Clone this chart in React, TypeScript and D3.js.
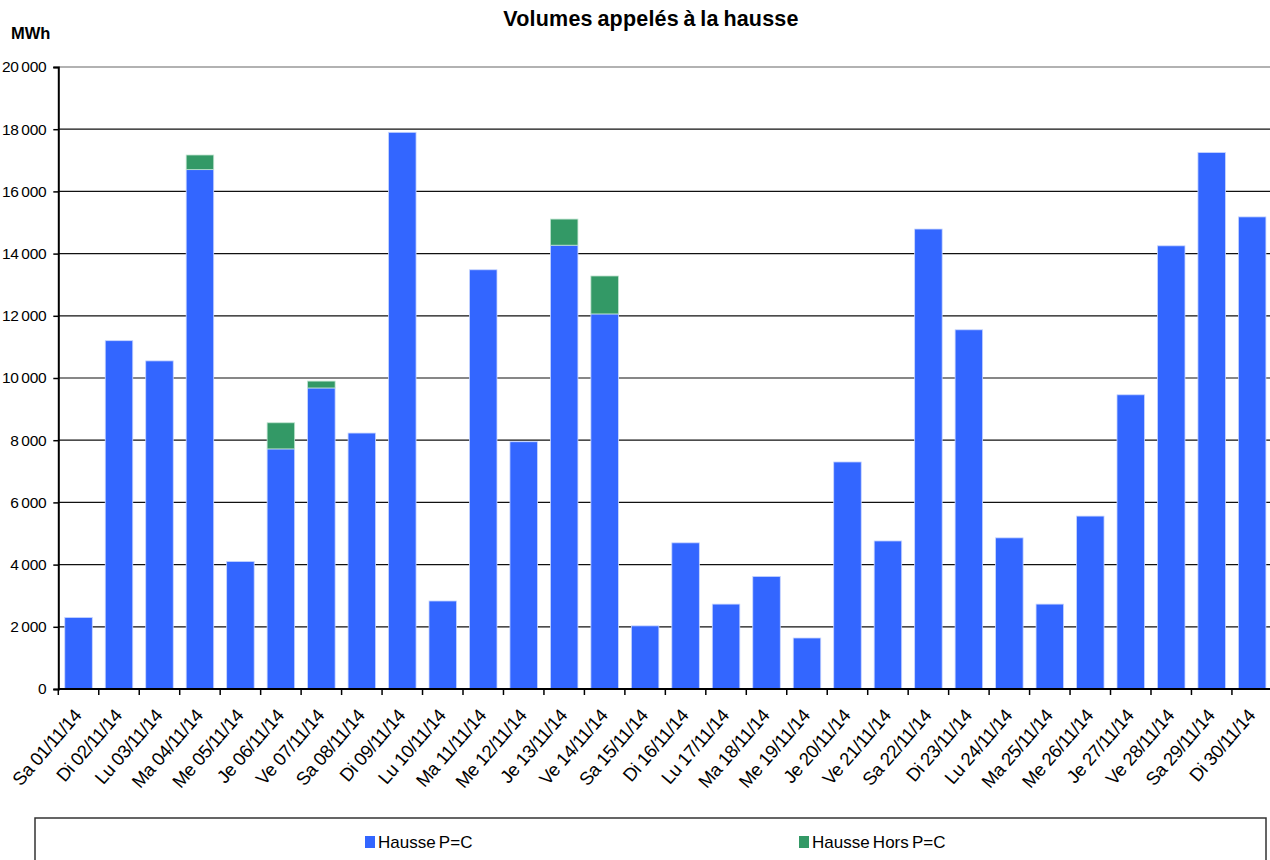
import { useEffect, useRef } from 'react';
import * as d3 from 'd3';

const W = 1270;
const H = 860;
// the plot runs slightly past the right edge of the picture
const margin = { top: 67, right: -2.4, bottom: 171, left: 58.3 };

const days = [
  'Sa 01/11/14', 'Di 02/11/14', 'Lu 03/11/14', 'Ma 04/11/14', 'Me 05/11/14',
  'Je 06/11/14', 'Ve 07/11/14', 'Sa 08/11/14', 'Di 09/11/14', 'Lu 10/11/14',
  'Ma 11/11/14', 'Me 12/11/14', 'Je 13/11/14', 'Ve 14/11/14', 'Sa 15/11/14',
  'Di 16/11/14', 'Lu 17/11/14', 'Ma 18/11/14', 'Me 19/11/14', 'Je 20/11/14',
  'Ve 21/11/14', 'Sa 22/11/14', 'Di 23/11/14', 'Lu 24/11/14', 'Ma 25/11/14',
  'Me 26/11/14', 'Je 27/11/14', 'Ve 28/11/14', 'Sa 29/11/14', 'Di 30/11/14',
];

// MWh
const haussePC = [
  2300, 11200, 10550, 16700, 4100, 7720, 9680, 8230, 17900, 2830,
  13480, 7950, 14270, 12060, 2030, 4700, 2730, 3620, 1640, 7300,
  4760, 14790, 11550, 4860, 2730, 5560, 9460, 14250, 17250, 15180,
];
const hausseHorsPC = [
  0, 0, 0, 470, 0, 840, 220, 0, 0, 0,
  0, 0, 840, 1220, 0, 0, 0, 0, 0, 0,
  0, 0, 0, 0, 0, 0, 0, 0, 0, 0,
];

const yTicks = [0, 2000, 4000, 6000, 8000, 10000, 12000, 14000, 16000, 18000, 20000];

const seriesNames = ['Hausse P=C', 'Hausse Hors P=C'];
const colors = ['#3366FF', '#339966'];

const FONT = '"Liberation Sans", Arial, sans-serif';

const fmt = (v: number) => (v >= 1000 ? d3.format(',')(v).replace(',', '\u2009') : String(v));

const App = () => {
  const ref = useRef<SVGSVGElement>(null);

  useEffect(() => {
    const svg = d3.select(ref.current);
    svg.selectAll('*').remove();

    const innerW = W - margin.left - margin.right;
    const innerH = H - margin.top - margin.bottom;

    const x = d3.scaleBand().domain(days).range([0, innerW]).paddingInner(0.32).paddingOuter(0.16);
    const y = d3.scaleLinear().domain([0, 20000]).range([innerH, 0]);

    const g = svg.append('g').attr('transform', `translate(${margin.left},${margin.top})`);

    // gridlines
    g.selectAll('.grid')
      .data(yTicks.filter((t) => t > 0))
      .enter()
      .append('line')
      .attr('x1', 0)
      .attr('x2', innerW)
      .attr('y1', (d) => y(d))
      .attr('y2', (d) => y(d))
      .attr('stroke', (d) => (d === 20000 ? '#666' : '#111'))
      .attr('stroke-width', 1.2);

    // stacked bars
    const rows = days.map((d, i) => ({ day: d, a: haussePC[i], b: hausseHorsPC[i] }));
    const stack = d3.stack<any>().keys(['a', 'b'])(rows);

    stack.forEach((layer, li) => {
      g.append('g')
        .selectAll('rect')
        .data(layer.filter((s) => s[1] - s[0] > 0))
        .enter()
        .append('rect')
        .attr('x', (s: any) => x(s.data.day)!)
        .attr('width', x.bandwidth())
        .attr('y', (s) => y(s[1]))
        .attr('height', (s) => y(s[0]) - y(s[1]))
        .attr('fill', colors[li])
        .attr('stroke', li === 0 ? '#c8d6ff' : '#bfe3cf')
        .attr('stroke-width', 0.8);
    });

    // y axis
    const yAxis = g
      .append('g')
      .call(d3.axisLeft(y).tickValues(yTicks).tickSize(5).tickPadding(7).tickFormat((d: any) => fmt(d)));
    yAxis.select('.domain').attr('stroke', '#000').attr('stroke-width', 2);
    yAxis.selectAll('.tick line').attr('stroke', '#000').attr('stroke-width', 1.5);
    yAxis
      .selectAll('.tick text')
      .attr('font-family', FONT)
      .attr('font-size', 15.5)
      .attr('letter-spacing', '-0.3px')
      .attr('fill', '#000');

    // x axis
    const xg = g.append('g').attr('transform', `translate(0,${innerH})`);
    xg.append('line').attr('x1', 0).attr('x2', innerW).attr('stroke', '#000').attr('stroke-width', 2);
    const step = x.step();
    xg.selectAll('.xt')
      .data(d3.range(days.length + 1))
      .enter()
      .append('line')
      .attr('x1', (i) => i * step)
      .attr('x2', (i) => i * step)
      .attr('y1', 0)
      .attr('y2', 6)
      .attr('stroke', '#000')
      .attr('stroke-width', 1.5);
    xg.selectAll('.xl')
      .data(days)
      .enter()
      .append('text')
      .attr('transform', (d) => `translate(${x(d)! + x.bandwidth() / 2 + 4},${27}) rotate(-49)`)
      .attr('text-anchor', 'end')
      .attr('font-family', FONT)
      .attr('font-size', 18.5)
      .attr('letter-spacing', '-0.4px')
      .attr('fill', '#000')
      .text((d) => d);

    // title and unit
    svg
      .append('text')
      .attr('x', 651)
      .attr('y', 26)
      .attr('text-anchor', 'middle')
      .attr('font-family', FONT)
      .attr('font-weight', 'bold')
      .attr('font-size', 21.5)
      .attr('letter-spacing', '0.2px')
      .attr('word-spacing', '-1.5px')
      .text('Volumes appelés à la hausse');
    svg
      .append('text')
      .attr('x', 11)
      .attr('y', 39)
      .attr('font-family', FONT)
      .attr('font-weight', 'bold')
      .attr('font-size', 16.5)
      .text('MWh');

    // legend
    svg
      .append('rect')
      .attr('x', 35)
      .attr('y', 818)
      .attr('width', 1231)
      .attr('height', 60)
      .attr('fill', 'none')
      .attr('stroke', '#333')
      .attr('stroke-width', 1.5);
    const legendX = [365, 799];
    seriesNames.forEach((name, i) => {
      const lg = svg.append('g').attr('transform', `translate(${legendX[i]},836)`);
      lg.append('rect').attr('width', 10).attr('height', 12).attr('fill', colors[i]);
      lg.append('text')
        .attr('x', 13)
        .attr('y', 12)
        .attr('font-family', FONT)
        .attr('font-size', 17)
        .attr('word-spacing', '-1.5px')
        .attr('fill', '#000')
        .text(name);
    });
  }, []);

  return (
    <svg
      ref={ref}
      width={W}
      height={H}
      style={{ position: 'absolute', left: 0, top: 0, background: '#fff' }}
    />
  );
};

export default App;
